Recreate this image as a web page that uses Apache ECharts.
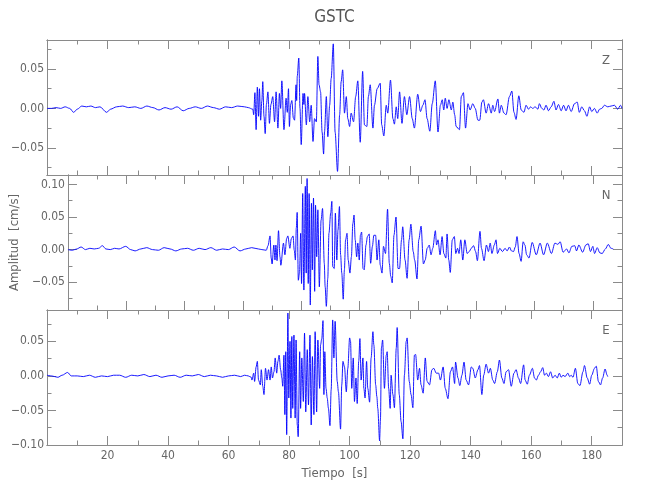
<!DOCTYPE html>
<html><head><meta charset="utf-8">
<script src="https://cdn.jsdelivr.net/npm/echarts@6/dist/echarts.min.js"></script>
<style>html,body{margin:0;padding:0;background:#fff}#c{width:650px;height:500px}</style>
</head><body><div id="c"></div>
<script>
// ---- data (time [s], amplitude [cm/s]) ----
const zTrace=[[0,0.000],[1.5,0.000],[3,0.001],[4.5,0.000],[6,0.002],[7.5,0.000],[8.8,-0.005],[10,-0.001],[11.5,0.003],[13,0.002],[14.5,0.003],[16,0.001],[17.5,0.002],[19.7,-0.005],[21,-0.001],[23,0.002],[25,0.003],[27,0.001],[29,0.002],[31,0.000],[33,0.003],[35,0.001],[37,-0.002],[39,0.001],[41,-0.001],[43,0.002],[45,-0.003],[47,0.000],[49,0.002],[51,0.000],[53,0.003],[55,0.001],[57,-0.001],[59,0.002],[61,0.001],[63,0.003],[65.3,0.002],[66.5,0.001],
[68.0,-0.001],[68.3,-0.008],[68.7,0.020],[69.1,-0.027],[69.5,0.027],[69.9,-0.010],[70.2,0.025],[70.6,-0.015],[71.0,0.010],[71.3,0.034],[71.7,-0.010],[72.1,-0.032],[72.5,0.005],[73.0,0.021],[73.5,-0.019],[74.0,0.005],[74.6,0.015],[75.2,-0.017],[75.7,0.021],[76.3,-0.025],[76.8,0.019],[77.2,0.000],[77.6,0.035],[78.3,-0.027],[79.0,0.013],[79.4,-0.005],[79.8,0.025],[80.1,-0.023],[80.5,0.005],[80.9,0.010],[81.4,-0.012],[81.8,-0.015],[82.3,0.030],[82.5,0.010],[82.7,0.041],[83.2,0.064],[83.6,0.000],[84.0,-0.046],[84.6,0.019],[84.9,0.005],[85.1,0.019],[85.7,-0.021],[86.2,0.015],[86.8,-0.017],[87.3,0.004],[87.9,-0.042],[88.4,-0.013],[89.0,-0.017],[89.5,0.066],[89.9,0.030],[90.4,0.021],[90.9,-0.030],[91.4,-0.058],[91.7,-0.030],[92.3,0.015],[92.8,-0.036],[93.4,0.004],[93.9,0.038],[94.6,0.082],[95.2,-0.030],[96.0,-0.080],[96.7,-0.008],[97.2,0.034],[97.7,0.049],[98.3,-0.006],[98.9,0.015],[99.4,-0.013],[100.0,-0.023],[100.5,-0.006],[101.3,-0.017],[102.0,0.015],[102.7,0.035],[103.5,-0.043],[104.3,0.047],[104.9,-0.021],[105.7,-0.023],[106.2,0.015],[106.8,0.030],[107.7,-0.025],[108.2,0.004],[109.1,0.025],[110.1,0.032],[110.6,-0.021],[111.3,-0.035],[112.1,0.004],[112.6,-0.006],[113.5,0.036],[114.3,-0.013],[114.8,-0.020],[115.4,0.002],[115.9,-0.013],[116.5,0.021],[117.3,-0.019],[118.1,0.015],[118.9,-0.008],[119.8,0.015],[120.7,-0.013],[121.4,-0.025],[122.5,0.018],[123.4,-0.004],[124.2,0.004],[124.9,0.011],[125.6,-0.013],[126.5,-0.029],[127.3,0.006],[128.3,0.035],[129.2,-0.030],[130.0,0.004],[130.6,0.011],[131.1,-0.002],[131.6,0.013],[132.2,0.000],[132.8,0.011],[133.6,-0.002],[134.1,0.008],[134.7,-0.008],[135.2,-0.023],[136.3,-0.027],[136.9,0.015],[137.6,0.020],[138.3,-0.025],[139.1,0.006],[139.8,-0.002],[140.7,0.006],[141.5,0.000],[142.4,-0.015],[143.0,-0.015],[143.7,0.008],[144.2,0.011],[145.1,-0.006],[145.9,0.006],[146.8,-0.006],[147.3,0.004],[147.9,-0.004],[149.0,0.012],[149.5,-0.006],[150.1,0.004],[151.0,-0.006],[151.7,-0.008],[152.8,0.015],[153.6,0.022],[154.3,-0.005],[155.0,-0.014],[155.9,0.016],[156.7,-0.002],[157.6,-0.005],[158.3,0.004],[159.1,-0.001],[159.8,0.002],[160.5,0.000],[161.3,0.002],[162.2,-0.001],[162.7,0.006],[163.5,0.000],[164.2,-0.002],[164.9,0.004],[165.7,-0.003],[166.6,0.002],[167.5,0.009],[168.2,-0.002],[169.0,0.005],[169.9,-0.003],[170.7,0.004],[171.5,-0.003],[172.3,0.004],[173.2,-0.004],[174.3,0.006],[175.2,0.008],[175.9,-0.005],[176.7,0.002],[177.6,-0.003],[178.4,-0.010],[179.3,0.002],[180.0,-0.004],[180.9,0.000],[181.8,-0.006],[182.6,-0.001],[183.3,0.000],[184.2,0.004],[185.3,0.002],[186.4,0.003],[187.5,0.004],[188.6,-0.001],[189.5,0.004],[190.0,0.000]];

const nTrace=[[0,0.000],[1.5,-0.001],[3,0.001],[4.5,0.004],[6,0.000],[7.5,0.002],[9,0.001],[10.5,0.002],[11.8,0.006],[13,0.001],[14.5,0.000],[16,0.002],[17.5,0.001],[19.8,0.005],[21.5,0.000],[23,-0.002],[25,0.001],[27,0.003],[29,0.000],[31,-0.001],[33,0.003],[35,0.001],[37,-0.002],[39,0.001],[41,0.002],[43,-0.001],[45,0.002],[47,0.000],[49,0.003],[51,-0.001],[53,0.001],[55,0.000],[57,0.004],[59,-0.002],[61,0.001],[63,0.003],[65.3,0.001],[66.5,0.000],
[68.0,-0.001],[68.6,0.006],[69.3,0.021],[69.7,-0.013],[70.0,-0.022],[70.6,0.007],[71.0,-0.016],[71.3,0.007],[71.7,-0.017],[72.2,0.029],[72.7,-0.011],[73.0,-0.024],[73.9,0.010],[74.4,-0.008],[75.0,0.017],[75.4,0.021],[76.1,0.002],[76.6,0.017],[77.2,0.021],[77.6,-0.001],[78.0,-0.016],[78.3,0.033],[78.6,0.057],[79.0,-0.047],[79.4,-0.036],[79.8,0.025],[80.1,-0.052],[80.5,0.086],[80.9,-0.062],[81.4,0.097],[81.7,-0.036],[82.0,0.109],[82.4,-0.052],[82.7,0.086],[83.1,-0.085],[83.5,0.071],[83.8,-0.031],[84.2,0.079],[84.6,-0.064],[84.9,0.068],[85.3,-0.011],[85.7,0.061],[86.2,-0.057],[86.8,0.045],[87.3,0.063],[87.9,-0.021],[88.2,-0.057],[88.6,-0.087],[89.1,-0.044],[89.5,0.025],[90.1,0.056],[90.5,0.074],[90.8,-0.026],[91.3,-0.029],[91.7,0.056],[92.2,-0.016],[92.6,0.030],[93.1,0.066],[93.5,-0.008],[93.9,-0.036],[94.4,-0.076],[94.8,-0.031],[95.2,0.015],[95.7,0.025],[96.1,-0.016],[96.7,-0.036],[97.2,-0.011],[97.7,0.040],[98.1,0.053],[98.5,0.015],[99.0,-0.011],[99.4,0.010],[99.9,-0.016],[100.3,0.022],[100.7,0.027],[101.2,-0.029],[101.6,-0.031],[102.2,0.007],[102.7,0.020],[103.3,0.024],[103.8,-0.021],[104.4,0.005],[104.9,0.022],[105.5,0.022],[106.0,-0.016],[106.6,0.015],[107.1,-0.024],[107.7,-0.036],[108.2,0.005],[108.9,-0.006],[109.6,0.062],[110.2,-0.021],[110.7,-0.041],[111.2,-0.051],[111.8,0.022],[112.5,0.050],[113.2,-0.029],[113.7,-0.029],[114.4,0.015],[114.8,0.035],[115.6,-0.016],[116.3,-0.044],[117.0,0.015],[117.6,0.039],[118.4,-0.003],[118.9,-0.016],[119.7,-0.045],[120.3,0.015],[121.1,0.036],[121.9,-0.022],[122.5,-0.016],[123.2,0.002],[123.9,0.007],[124.5,-0.008],[125.1,0.002],[126.0,0.029],[126.4,0.007],[126.9,0.015],[127.6,-0.008],[128.3,0.020],[128.9,-0.006],[129.6,-0.013],[130.0,0.024],[130.6,-0.016],[131.1,-0.035],[131.8,0.015],[132.5,0.020],[133.0,-0.006],[133.6,0.002],[134.1,-0.006],[134.7,0.015],[135.4,-0.016],[136.1,0.015],[136.9,-0.006],[137.6,-0.003],[138.3,0.002],[139.1,0.006],[139.8,-0.003],[140.4,-0.017],[141.3,0.028],[141.8,0.002],[142.7,-0.017],[143.5,0.007],[144.2,-0.003],[144.8,0.010],[145.4,-0.006],[146.2,0.007],[146.8,0.015],[147.3,-0.006],[148.1,0.002],[149.0,-0.003],[149.9,0.002],[150.6,-0.002],[151.4,0.004],[152.1,-0.002],[152.8,-0.003],[153.4,0.004],[154.0,0.020],[154.7,-0.006],[155.4,-0.018],[156.1,0.012],[156.7,0.007],[157.3,-0.008],[158.1,-0.013],[159.2,0.011],[160.6,-0.008],[161.9,0.010],[163.1,-0.008],[164.4,0.010],[165.8,-0.006],[167.0,0.010],[168.0,0.008],[168.8,0.012],[169.8,-0.004],[171.0,0.001],[171.8,-0.005],[172.8,0.005],[173.8,0.006],[174.4,-0.002],[175.2,0.007],[176.5,-0.004],[177.6,0.007],[178.4,0.009],[179.2,-0.003],[180.0,0.005],[180.6,-0.006],[181.5,0.003],[182.4,-0.005],[183.2,-0.006],[184.3,0.001],[185.3,0.008],[186.2,0.002],[187.0,0.001]];

const eTrace=[[0,0.001],[1.5,0.000],[3.6,-0.002],[5,0.001],[6.8,0.005],[8,0.000],[10,0.000],[12,-0.001],[14,0.001],[16,-0.002],[18,0.000],[20,-0.001],[22,0.001],[24,0.001],[26,-0.002],[28,0.001],[30,0.000],[32,0.002],[34,-0.001],[36,0.001],[38,-0.002],[40,0.000],[42,0.001],[44,-0.002],[46,0.001],[48,0.000],[50,0.002],[52,-0.001],[54,0.001],[56,0.000],[58,-0.002],[60,0.000],[62,0.001],[64,-0.001],[65.3,0.001],[66.5,0.000],
[67.5,-0.002],[67.7,-0.006],[68.3,0.004],[68.6,-0.008],[69.1,0.013],[69.5,0.021],[69.9,-0.006],[70.5,-0.013],[70.8,0.009],[71.3,-0.015],[71.7,-0.027],[72.2,0.011],[72.7,-0.006],[73.2,0.009],[73.7,-0.006],[74.1,0.013],[74.5,-0.003],[75.0,0.006],[75.4,0.026],[75.9,0.004],[76.3,0.021],[76.7,0.030],[77.2,0.009],[77.6,-0.003],[77.9,-0.015],[78.3,0.030],[78.6,-0.056],[78.9,0.035],[79.2,-0.085],[79.6,0.091],[79.9,-0.032],[80.3,0.050],[80.6,-0.061],[80.9,0.057],[81.2,-0.047],[81.6,0.059],[82.0,-0.061],[82.3,0.052],[82.7,-0.071],[83.0,-0.088],[83.5,0.035],[83.8,-0.047],[84.2,0.026],[84.7,-0.037],[85.1,0.062],[85.5,-0.052],[86.0,0.038],[86.4,-0.042],[86.9,0.059],[87.3,-0.071],[87.7,0.028],[88.2,-0.056],[88.6,0.064],[89.1,-0.052],[89.5,0.052],[90.1,-0.018],[90.4,0.045],[90.8,0.054],[91.2,0.080],[91.5,-0.027],[91.8,0.035],[92.2,-0.018],[92.6,-0.032],[93.0,-0.047],[93.5,-0.072],[93.9,-0.020],[94.4,0.081],[94.8,0.026],[95.2,0.079],[95.9,-0.008],[96.3,-0.023],[97.0,-0.077],[97.4,-0.013],[97.8,0.021],[98.3,0.013],[98.9,-0.023],[99.4,0.011],[100.0,0.055],[100.3,0.050],[100.7,-0.018],[101.2,0.026],[101.6,-0.037],[102.1,-0.003],[102.5,-0.040],[103.0,0.021],[103.4,0.054],[103.8,-0.006],[104.4,0.026],[104.7,-0.018],[105.1,-0.032],[105.6,0.021],[106.0,-0.018],[106.6,-0.038],[107.1,0.026],[107.7,0.064],[108.0,0.045],[108.6,-0.013],[109.0,-0.030],[109.3,-0.047],[109.9,-0.094],[110.2,-0.061],[110.5,0.040],[110.9,0.052],[111.5,-0.018],[112.1,0.030],[112.4,0.035],[112.9,-0.018],[113.4,-0.047],[113.7,0.001],[114.3,-0.027],[114.8,-0.046],[115.4,0.040],[115.7,0.070],[116.4,-0.027],[117.0,-0.066],[117.6,-0.091],[118.1,0.001],[118.7,0.050],[119.0,0.055],[119.7,-0.008],[120.3,-0.027],[120.9,-0.046],[121.4,0.030],[121.8,0.031],[122.5,-0.006],[123.1,0.011],[123.6,-0.013],[124.3,-0.025],[125.0,0.026],[125.6,-0.008],[126.4,-0.013],[127.2,0.009],[127.8,0.011],[128.6,0.004],[129.4,0.004],[130.0,-0.006],[130.9,0.013],[131.6,-0.018],[132.5,-0.033],[133.3,0.006],[134.0,0.013],[134.7,-0.011],[135.0,0.020],[135.8,-0.003],[136.4,-0.014],[137.1,0.001],[137.8,0.020],[138.5,-0.006],[139.3,-0.013],[140.2,0.013],[140.7,0.011],[141.5,-0.003],[142.4,0.009],[142.9,0.015],[143.7,-0.027],[144.3,0.001],[145.1,0.017],[145.9,0.004],[146.5,0.011],[147.3,-0.006],[147.9,-0.011],[148.8,0.006],[149.5,0.023],[150.3,-0.003],[151.0,-0.011],[151.7,0.006],[152.5,0.009],[153.4,-0.015],[154.3,0.004],[155.0,0.009],[155.8,-0.003],[156.5,-0.011],[157.5,0.016],[158.0,-0.006],[158.7,-0.012],[159.4,0.001],[160.4,0.011],[161.1,-0.003],[161.7,-0.006],[162.4,0.001],[163.1,0.006],[163.8,0.012],[164.4,0.001],[165.0,0.004],[165.7,-0.001],[166.4,0.006],[167.1,-0.003],[167.9,0.001],[168.6,-0.003],[169.3,0.004],[169.9,-0.002],[170.5,0.001],[171.2,-0.001],[172.1,0.004],[172.7,-0.001],[173.2,0.001],[173.8,-0.002],[174.6,0.011],[175.4,-0.011],[176.1,-0.014],[177.1,0.006],[177.6,0.015],[178.5,-0.003],[179.3,-0.012],[180.0,0.001],[180.9,0.011],[181.5,0.014],[182.2,-0.008],[182.9,-0.013],[183.6,-0.003],[184.4,0.010],[185.1,0.001],[185.3,-0.001]];

const componentNames=['Z','N','E'];
const yRanges=[[-0.0846,0.0869],[-0.0926,0.1144],[-0.1,0.0954]];
const yLabelTicks=[[-0.05,0,0.05],[-0.05,0,0.05,0.1],[-0.1,-0.05,0,0.05]];
const yMinorTicks=[[-0.075,-0.025,0.025,0.075],[-0.075,-0.025,0.025,0.075],[-0.075,-0.025,0.025,0.075]];
const xRange=[0,190];
const xLabelTicks=[20,40,60,80,100,120,140,160,180];
const xMinorTicks=[10,30,50,70,90,110,130,150,170];
const titleText='GSTC', xName='Tiempo  [s]', yName='Amplitud  [cm/s]';

// ---- layout / style ----
const FONT="'Liberation Sans Narrow','DejaVu Sans Condensed','Roboto Condensed','Liberation Sans',sans-serif";
const AX='#8a8a8a', TXT='#666';
const gridTops=[40,175,310], gridH=135, gridL=47, gridW=575;
const traces=[zTrace,nTrace,eTrace];

const fmtY=v=>(v<0?'\u2212':'')+Math.abs(v).toFixed(2);
const grid=[],xAxis=[],yAxis=[],series=[],graphic=[];
for(let i=0;i<3;i++){
  grid.push({left:gridL,top:gridTops[i],width:gridW,height:gridH,containLabel:false});
  const base={gridIndex:i,type:'value',min:xRange[0],max:xRange[1],splitLine:{show:false},
    axisLine:{show:true,onZero:false,lineStyle:{color:AX,width:1}}};
  ['bottom','top'].forEach(pos=>{
    const showLab=(pos==='bottom'&&i===2);
    xAxis.push(Object.assign({},base,{position:pos,
      axisTick:{show:true,inside:true,length:9,customValues:xLabelTicks,lineStyle:{color:AX}},
      axisLabel:{show:showLab,customValues:xLabelTicks,color:TXT,fontSize:12,fontFamily:FONT,margin:5},
      name:showLab?xName:'',nameLocation:'middle',nameGap:22,
      nameTextStyle:{color:TXT,fontSize:13,fontFamily:FONT}}));
    xAxis.push(Object.assign({},base,{position:pos,
      axisTick:{show:true,inside:true,length:4.5,customValues:xMinorTicks,lineStyle:{color:AX}},
      axisLabel:{show:false}}));
  });
  const yb={gridIndex:i,type:'value',min:yRanges[i][0],max:yRanges[i][1],splitLine:{show:false},
    axisLine:{show:true,onZero:false,lineStyle:{color:AX,width:1}}};
  ['left','right'].forEach(pos=>{
    const showLab=(pos==='left');
    yAxis.push(Object.assign({},yb,{position:pos,
      axisTick:{show:true,inside:true,length:9,customValues:yLabelTicks[i],lineStyle:{color:AX}},
      axisLabel:{show:showLab,customValues:yLabelTicks[i],formatter:fmtY,color:TXT,fontSize:12,fontFamily:FONT,margin:3,
        showMinLabel:true,showMaxLabel:true},
      name:(showLab&&i===1)?yName:'',nameLocation:'middle',nameGap:37,
      nameTextStyle:{color:TXT,fontSize:13,fontFamily:FONT}}));
    yAxis.push(Object.assign({},yb,{position:pos,
      axisTick:{show:true,inside:true,length:4.5,customValues:yMinorTicks[i],lineStyle:{color:AX}},
      axisLabel:{show:false}}));
  });
  series.push({type:'line',name:componentNames[i],xAxisIndex:i*4,yAxisIndex:i*4,data:traces[i],
    showSymbol:false,symbol:'none',smooth:0.3,smoothMonotone:'x',clip:true,silent:true,animation:false,
    lineStyle:{color:'#0000ff',width:0.9}});
  graphic.push({type:'text',x:606,y:gridTops[i]+21,style:{text:componentNames[i],fill:TXT,fontSize:13,fontFamily:FONT,
    align:'center',textAlign:'center',verticalAlign:'middle',textVerticalAlign:'middle'}});
}
graphic.push({type:'text',x:gridL+gridW/2,y:18,style:{text:titleText,fill:'#555',fontSize:17,fontFamily:FONT,
  align:'center',textAlign:'center',verticalAlign:'middle',textVerticalAlign:'middle'}});

const chart=echarts.init(document.getElementById('c'),null,{renderer:'canvas'});
chart.setOption({animation:false,backgroundColor:'#fff',grid,xAxis,yAxis,series,graphic});
</script></body></html>
